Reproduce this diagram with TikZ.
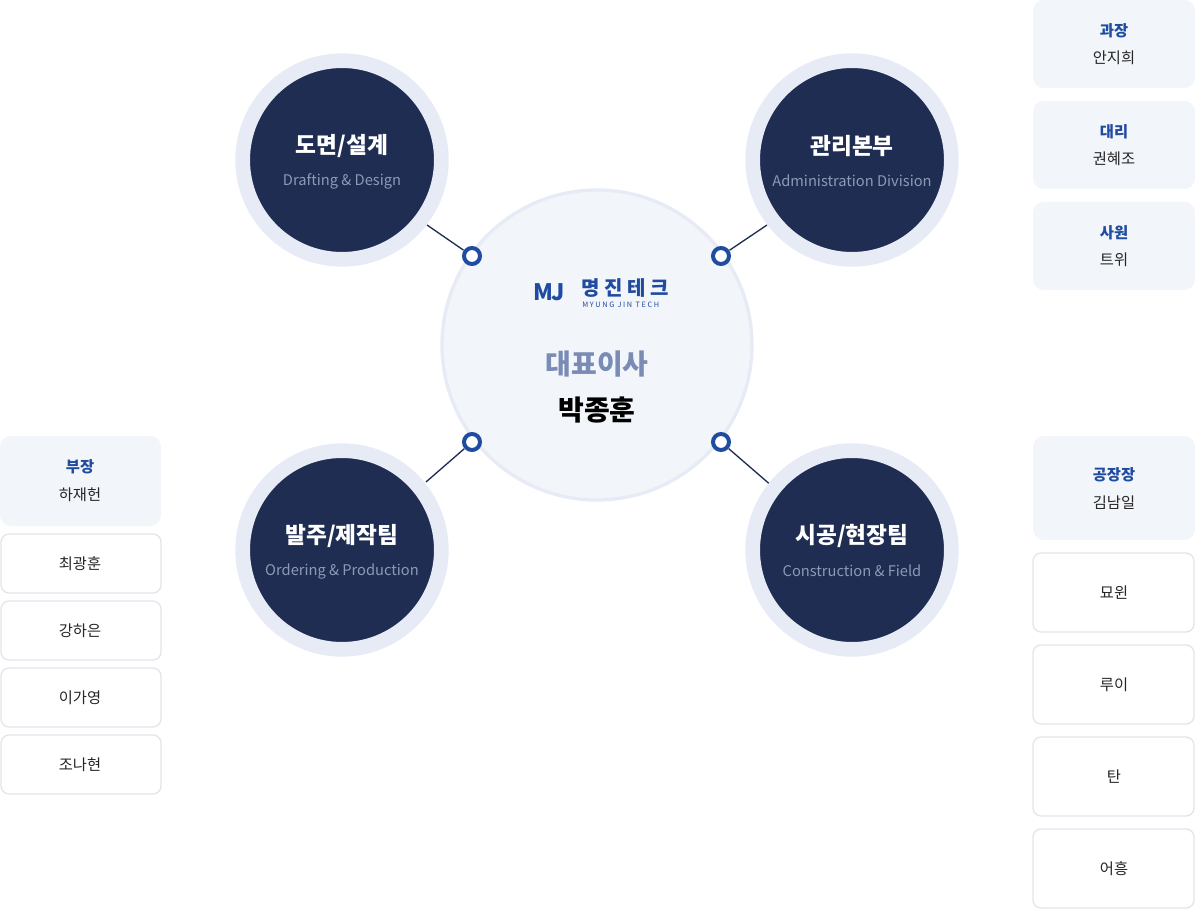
\documentclass[tikz,border=0pt]{standalone}
\usepackage{fontspec}
\setmainfont{Noto Sans CJK KR}
\definecolor{navy}{HTML}{1F2D52}
\definecolor{ringblue}{HTML}{E6EBF5}
\definecolor{mjblue}{HTML}{1F4BA0}
\definecolor{paleblue}{HTML}{F2F5FA}
\definecolor{subgray}{HTML}{8E99B5}
\definecolor{ceogray}{HTML}{7A8BB5}
\definecolor{boxline}{HTML}{E2E5EA}

\begin{document}
\begin{tikzpicture}[x=0.75pt,y=-0.75pt]
\useasboundingbox (0,0) rectangle (1195,909);

\coordinate (C0) at (597,345);
\coordinate (T1) at (342,160);
\coordinate (T2) at (852,160);
\coordinate (T3) at (342,550);
\coordinate (T4) at (852,550);
\coordinate (E1) at (427,225);
\coordinate (E2) at (767,225);
\coordinate (E3) at (426,482);
\coordinate (E4) at (780,493);


\fill[paleblue, draw=ringblue, line width=2.5pt] (C0) circle (155);

\tikzset{LinkStyle/.style = {navy, line width=1pt} }

\node[circle, minimum size=15pt, inner sep=0pt] (R1) at (472,256) {};
\node[circle, minimum size=15pt, inner sep=0pt] (R2) at (721,256) {};
\node[circle, minimum size=15pt, inner sep=0pt] (R3) at (472,442) {};
\node[circle, minimum size=15pt, inner sep=0pt] (R4) at (721,442) {};

\draw[LinkStyle] (E1) -- (R1);
\draw[LinkStyle] (E2) -- (R2);
\draw[LinkStyle] (E3) -- (R3);
\draw[LinkStyle] (E4) -- (R4);

\draw[mjblue, line width=3pt, fill=white] (R1.center) circle (8);
\draw[mjblue, line width=3pt, fill=white] (R2.center) circle (8);
\draw[mjblue, line width=3pt, fill=white] (R3.center) circle (8);
\draw[mjblue, line width=3pt, fill=white] (R4.center) circle (8);


\tikzset{TeamStyle/.style = {
 shape = circle,
 fill = navy,
 draw = ringblue,
 line width = 11pt,
 minimum size = 149pt,
 inner sep = 0pt} }

\node[TeamStyle] (D1) at (T1) {};
\node[TeamStyle] (D2) at (T2) {};
\node[TeamStyle] (D3) at (T3) {};
\node[TeamStyle] (D4) at (T4) {};

\tikzset{TitleStyle/.style = {text=white, font=\fontsize{17}{20}\selectfont\bfseries} }
\tikzset{SubStyle/.style = {text=subgray, font=\fontsize{11}{12}\selectfont} }

\node[TitleStyle] at (342,146) {도면/설계};
\node[SubStyle] at (342,181) {Drafting \& Design};
\node[TitleStyle] at (852,146) {관리본부};
\node[SubStyle] at (852,181) {Administration Division};
\node[TitleStyle] at (342,536) {발주/제작팀};
\node[SubStyle] at (342,571) {Ordering \& Production};
\node[TitleStyle] at (852,536) {시공/현장팀};
\node[SubStyle] at (852,571) {Construction \& Field};


% logo
\node[text=mjblue, font=\fontsize{17}{18}\selectfont\bfseries, inner sep=0pt] (MJ) at (549,292) {M\kern-1ptJ};
\node[text=mjblue, font=\fontsize{15}{16}\selectfont\bfseries, anchor=west, inner sep=0pt] (KR) at (581,288) {명 진 테 크};
\node[text=mjblue, font=\fontsize{5.5}{6}\selectfont, anchor=west, inner sep=0pt] at (582,305) {M Y U N G\ \ J I N\ \ T E C H};

\node[text=ceogray, font=\fontsize{21}{24}\selectfont\bfseries] (CEO) at (597,364) {대표이사};
\node[text=black, font=\fontsize{21}{24}\selectfont\bfseries] (NAME) at (597,410) {박종훈};


\tikzset{InfoStyle/.style = {fill=paleblue, rounded corners=8pt} }
\tikzset{MemberStyle/.style = {fill=white, draw=boxline, line width=1pt, rounded corners=6pt} }
\tikzset{RankStyle/.style = {text=mjblue, font=\fontsize{11.5}{13}\selectfont\bfseries} }
\tikzset{PersonStyle/.style = {text=black!85, font=\fontsize{11.5}{13}\selectfont} }

\fill[InfoStyle] (1033,0) rectangle (1195,88);
\node[RankStyle] at (1114,31) {과장};
\node[PersonStyle] at (1114,58) {안지희};
\fill[InfoStyle] (1033,101) rectangle (1195,189);
\node[RankStyle] at (1114,132) {대리};
\node[PersonStyle] at (1114,159) {권혜조};
\fill[InfoStyle] (1033,202) rectangle (1195,290);
\node[RankStyle] at (1114,233) {사원};
\node[PersonStyle] at (1114,260) {트위};

\fill[InfoStyle] (0,436) rectangle (161,526);
\node[RankStyle] at (80,467) {부장};
\node[PersonStyle] at (80,495) {하재헌};
\draw[MemberStyle] (1,534) rectangle (161,593);
\node[PersonStyle] at (80,564) {최광훈};
\draw[MemberStyle] (1,601) rectangle (161,660);
\node[PersonStyle] at (80,631) {강하은};
\draw[MemberStyle] (1,668) rectangle (161,727);
\node[PersonStyle] at (80,698) {이가영};
\draw[MemberStyle] (1,735) rectangle (161,794);
\node[PersonStyle] at (80,765) {조나현};

\fill[InfoStyle] (1033,436) rectangle (1195,540);
\node[RankStyle] at (1114,475) {공장장};
\node[PersonStyle] at (1114,503) {김남일};
\draw[MemberStyle] (1033,553) rectangle (1194,632);
\node[PersonStyle] at (1114,593) {묘윈};
\draw[MemberStyle] (1033,645) rectangle (1194,724);
\node[PersonStyle] at (1114,685) {루이};
\draw[MemberStyle] (1033,737) rectangle (1194,816);
\node[PersonStyle] at (1114,777) {탄};
\draw[MemberStyle] (1033,829) rectangle (1194,908);
\node[PersonStyle] at (1114,869) {어흥};

\end{tikzpicture}
\end{document}
